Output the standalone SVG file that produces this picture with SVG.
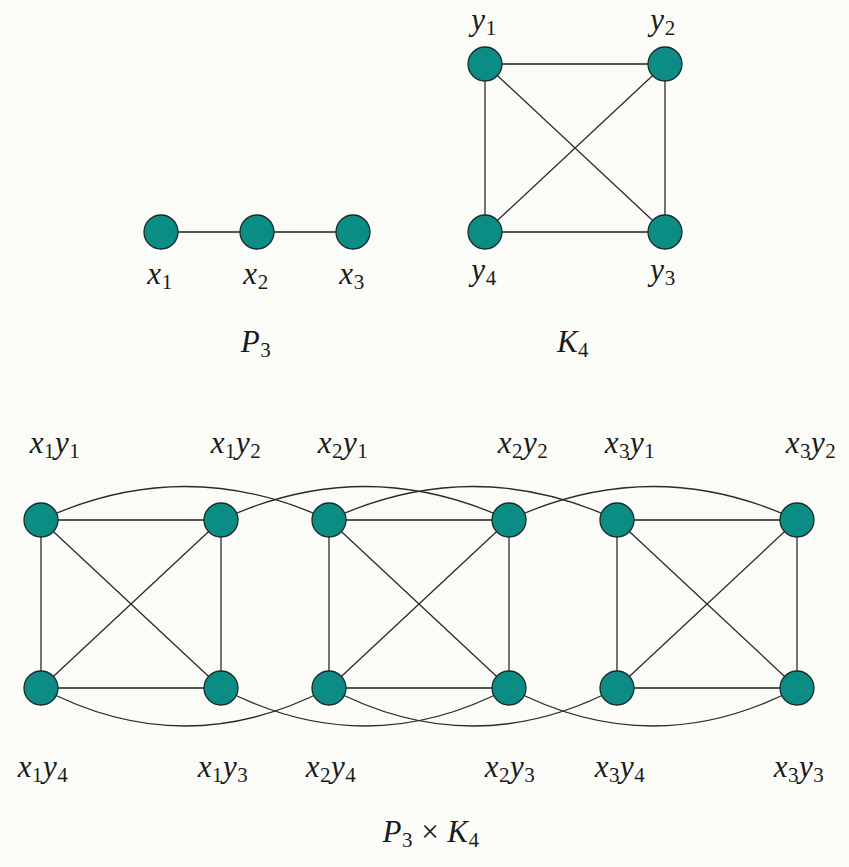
<svg xmlns="http://www.w3.org/2000/svg" width="849" height="867" viewBox="0 0 849 867">
<style>
.e{stroke:#2a2a2a;stroke-width:1.3;fill:none}
.h{stroke:#555;stroke-width:1.8;fill:none}
.n{fill:#0b8d86;stroke:#1c2b2a;stroke-width:1.3}
.t{font-family:"Liberation Serif","DejaVu Serif",serif;font-style:italic;font-size:31px;fill:#1a1a1a;text-anchor:middle;letter-spacing:0.5px}
.s{font-style:normal;font-size:21px}
</style>
<rect width="849" height="867" fill="#fbfcf8"/>
<g id="connectors">
<line class="h" x1="161" y1="232" x2="353" y2="232"/>
<line class="h" x1="485" y1="64" x2="665" y2="64"/>
<line class="h" x1="485" y1="232" x2="665" y2="232"/>
<line class="e" x1="485" y1="64" x2="485" y2="232"/>
<line class="e" x1="665" y1="64" x2="665" y2="232"/>
<line class="e" x1="485" y1="64" x2="665" y2="232"/>
<line class="e" x1="665" y1="64" x2="485" y2="232"/>
<g id="k1">
<line class="h" x1="41" y1="520" x2="221" y2="520"/>
<line class="h" x1="41" y1="688" x2="221" y2="688"/>
<line class="e" x1="41" y1="520" x2="41" y2="688"/>
<line class="e" x1="221" y1="520" x2="221" y2="688"/>
<line class="e" x1="41" y1="520" x2="221" y2="688"/>
<line class="e" x1="221" y1="520" x2="41" y2="688"/>
</g>
<g id="k2">
<line class="h" x1="329" y1="520" x2="509" y2="520"/>
<line class="h" x1="329" y1="688" x2="509" y2="688"/>
<line class="e" x1="329" y1="520" x2="329" y2="688"/>
<line class="e" x1="509" y1="520" x2="509" y2="688"/>
<line class="e" x1="329" y1="520" x2="509" y2="688"/>
<line class="e" x1="509" y1="520" x2="329" y2="688"/>
</g>
<g id="k3">
<line class="h" x1="617" y1="520" x2="797" y2="520"/>
<line class="h" x1="617" y1="688" x2="797" y2="688"/>
<line class="e" x1="617" y1="520" x2="617" y2="688"/>
<line class="e" x1="797" y1="520" x2="797" y2="688"/>
<line class="e" x1="617" y1="520" x2="797" y2="688"/>
<line class="e" x1="797" y1="520" x2="617" y2="688"/>
</g>
<path class="e" d="M41,520 Q185,453 329,520"/>
<path class="e" d="M221,520 Q365,453 509,520"/>
<path class="e" d="M329,520 Q473,453 617,520"/>
<path class="e" d="M509,520 Q653,453 797,520"/>
<path class="e" d="M41,688 Q185,764 329,688"/>
<path class="e" d="M221,688 Q365,764 509,688"/>
<path class="e" d="M329,688 Q473,764 617,688"/>
<path class="e" d="M509,688 Q653,764 797,688"/>
</g>
<g id="x1"><circle class="n" cx="161" cy="232" r="17"/><text class="t" x="160" y="284">x<tspan class="s" dy="5">1</tspan></text></g>
<g id="x2"><circle class="n" cx="257" cy="232" r="17"/><text class="t" x="256" y="284">x<tspan class="s" dy="5">2</tspan></text></g>
<g id="x3"><circle class="n" cx="353" cy="232" r="17"/><text class="t" x="352" y="284">x<tspan class="s" dy="5">3</tspan></text></g>
<g id="y1"><circle class="n" cx="485" cy="64" r="17"/><text class="t" x="484" y="30">y<tspan class="s" dy="5">1</tspan></text></g>
<g id="y2"><circle class="n" cx="665" cy="64" r="17"/><text class="t" x="663" y="30">y<tspan class="s" dy="5">2</tspan></text></g>
<g id="y3"><circle class="n" cx="665" cy="232" r="17"/><text class="t" x="663" y="280">y<tspan class="s" dy="5">3</tspan></text></g>
<g id="y4"><circle class="n" cx="485" cy="232" r="17"/><text class="t" x="484" y="280">y<tspan class="s" dy="5">4</tspan></text></g>
<text class="t" x="256" y="352">P<tspan class="s" dy="5">3</tspan></text>
<text class="t" x="573" y="352">K<tspan class="s" dy="5">4</tspan></text>
<g id="x1y1"><circle class="n" cx="41" cy="520" r="17"/><text class="t" x="55" y="453">x<tspan class="s" dy="5">1</tspan><tspan dy="-5">y</tspan><tspan class="s" dy="5">1</tspan></text></g>
<g id="x1y2"><circle class="n" cx="221" cy="520" r="17"/><text class="t" x="236" y="453">x<tspan class="s" dy="5">1</tspan><tspan dy="-5">y</tspan><tspan class="s" dy="5">2</tspan></text></g>
<g id="x2y1"><circle class="n" cx="329" cy="520" r="17"/><text class="t" x="343" y="453">x<tspan class="s" dy="5">2</tspan><tspan dy="-5">y</tspan><tspan class="s" dy="5">1</tspan></text></g>
<g id="x2y2"><circle class="n" cx="509" cy="520" r="17"/><text class="t" x="523" y="453">x<tspan class="s" dy="5">2</tspan><tspan dy="-5">y</tspan><tspan class="s" dy="5">2</tspan></text></g>
<g id="x3y1"><circle class="n" cx="617" cy="520" r="17"/><text class="t" x="630" y="453">x<tspan class="s" dy="5">3</tspan><tspan dy="-5">y</tspan><tspan class="s" dy="5">1</tspan></text></g>
<g id="x3y2"><circle class="n" cx="797" cy="520" r="17"/><text class="t" x="811" y="453">x<tspan class="s" dy="5">3</tspan><tspan dy="-5">y</tspan><tspan class="s" dy="5">2</tspan></text></g>
<g id="x1y4"><circle class="n" cx="41" cy="688" r="17"/><text class="t" x="43" y="777">x<tspan class="s" dy="5">1</tspan><tspan dy="-5">y</tspan><tspan class="s" dy="5">4</tspan></text></g>
<g id="x1y3"><circle class="n" cx="221" cy="688" r="17"/><text class="t" x="223" y="777">x<tspan class="s" dy="5">1</tspan><tspan dy="-5">y</tspan><tspan class="s" dy="5">3</tspan></text></g>
<g id="x2y4"><circle class="n" cx="329" cy="688" r="17"/><text class="t" x="331" y="777">x<tspan class="s" dy="5">2</tspan><tspan dy="-5">y</tspan><tspan class="s" dy="5">4</tspan></text></g>
<g id="x2y3"><circle class="n" cx="509" cy="688" r="17"/><text class="t" x="510" y="777">x<tspan class="s" dy="5">2</tspan><tspan dy="-5">y</tspan><tspan class="s" dy="5">3</tspan></text></g>
<g id="x3y4"><circle class="n" cx="617" cy="688" r="17"/><text class="t" x="620" y="777">x<tspan class="s" dy="5">3</tspan><tspan dy="-5">y</tspan><tspan class="s" dy="5">4</tspan></text></g>
<g id="x3y3"><circle class="n" cx="797" cy="688" r="17"/><text class="t" x="799" y="777">x<tspan class="s" dy="5">3</tspan><tspan dy="-5">y</tspan><tspan class="s" dy="5">3</tspan></text></g>
<text class="t" x="431" y="842">P<tspan class="s" dy="5">3</tspan><tspan dy="-5" font-style="normal"> × </tspan>K<tspan class="s" dy="5">4</tspan></text>
</svg>
